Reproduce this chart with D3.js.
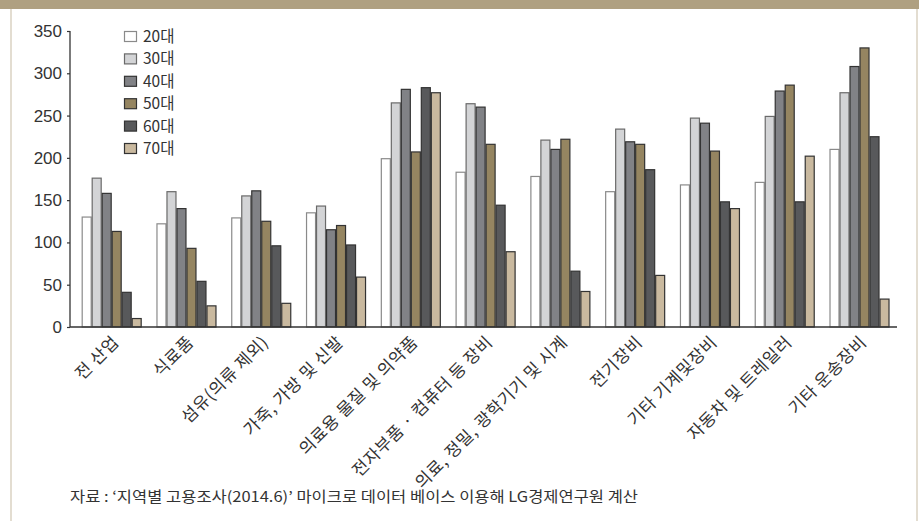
<!DOCTYPE html>
<html><head><meta charset="utf-8">
<script src="https://cdn.jsdelivr.net/npm/d3@7"></script>
<style>
body{margin:0;background:#fff;}
svg{display:block;font-family:"Noto Sans CJK KR","Noto Sans",sans-serif;}
</style></head>
<body><svg id="c" width="919" height="521"></svg>
<script>
const categories = ["전 산업","식료품","섬유(의류 제외)","가죽, 가방 및 신발","의료용 물질 및 의약품","전자부품 · 컴퓨터 등 장비","의료, 정밀, 광학기기 및 시계","전기장비","기타 기계및장비","자동차 및 트레일러","기타 운송장비"];
const seriesNames = ["20대","30대","40대","50대","60대","70대"];
const v20 = [130,122,129,135,199,183,178,160,168,171,210];
const v30 = [176,160,155,143,265,264,221,234,247,249,277];
const v40 = [158,140,161,115,281,260,210,219,241,279,308];
const v50 = [113,93,125,120,207,216,222,216,208,286,330];
const v60 = [41,54,96,97,283,144,66,186,148,148,225];
const v70 = [10,25,28,59,277,89,42,61,140,202,33];
const yTicks = [0,50,100,150,200,250,300,350];
const sourceNote = "자료 : ‘지역별 고용조사(2014.6)’ 마이크로 데이터 베이스 이용해 LG경제연구원 계산";

const seriesValues = [v20,v30,v40,v50,v60,v70];
const fills = ["#ffffff","#d3d4d6","#818286","#958561","#58595b","#c9b99f"];
const strokes = ["#8a8a8a","#6a6a6a","#333333","#333333","#333333","#333333"];

const svg = d3.select("#c");
// frame
svg.append("rect").attr("x",0).attr("y",0).attr("width",919).attr("height",9).attr("fill","#afa081");
svg.append("rect").attr("x",10).attr("y",9).attr("width",2).attr("height",512).attr("fill","#e3ddd1");
svg.append("rect").attr("x",916).attr("y",9).attr("width",2).attr("height",512).attr("fill","#e3ddd1");

const y = d3.scaleLinear().domain([0,350]).range([327,31]);
const x0 = d3.scaleBand().domain(categories).range([74.3,896.9]).padding(0);
const groupW = 60;
const x1 = d3.scaleBand().domain(seriesNames).range([0,groupW]).padding(0);
const off = (x0.bandwidth()-groupW)/2;

// bars
seriesNames.forEach((s,si)=>{
  svg.append("g").selectAll("rect").data(seriesValues[si]).join("rect")
    .attr("x",(d,i)=>x0(categories[i])+off+x1(s)+0.5)
    .attr("y",d=>y(d))
    .attr("width",x1.bandwidth()-1)
    .attr("height",d=>y(0)-y(d))
    .attr("fill",fills[si]).attr("stroke",strokes[si]).attr("stroke-width",1.2);
});

// y axis
const ya = svg.append("g").attr("transform","translate(70,0)")
  .call(d3.axisLeft(y).tickValues(yTicks).tickSize(3).tickPadding(5));
ya.select(".domain").attr("stroke","#333").attr("stroke-width",1.3).attr("d","M0,31V327");
ya.selectAll(".tick line").attr("stroke","#333").attr("stroke-width",1.2);
ya.selectAll(".tick text").attr("font-size",17).attr("fill","#333");

// x axis line
svg.append("line").attr("x1",70).attr("x2",897).attr("y1",327).attr("y2",327).attr("stroke","#333").attr("stroke-width",1.3);

// x labels
svg.append("g").selectAll("text").data(categories).join("text")
  .attr("transform",d=>`translate(${x0(d)+x0.bandwidth()/2+4},${339}) rotate(-45)`)
  .attr("text-anchor","end").attr("dy","0.35em")
  .attr("font-size",17).attr("letter-spacing","0.6px").attr("fill","#333").text(d=>d);

// legend
const lg = svg.append("g");
seriesNames.forEach((s,i)=>{
  const cy = 36.5 + i*22.4;
  lg.append("rect").attr("x",124.5).attr("y",cy-5).attr("width",12).attr("height",10)
    .attr("fill",fills[i]).attr("stroke",strokes[i]).attr("stroke-width",1.2);
  lg.append("text").attr("x",143).attr("y",cy).attr("dy","0.35em").attr("font-size",15.5).attr("fill","#333").text(s);
});

// source
svg.append("text").attr("x",70).attr("y",497).attr("dy","0.35em").attr("font-size",14.5)
  .attr("fill","#333").attr("textLength",568).attr("lengthAdjust","spacingAndGlyphs").text(sourceNote);
</script></body></html>
